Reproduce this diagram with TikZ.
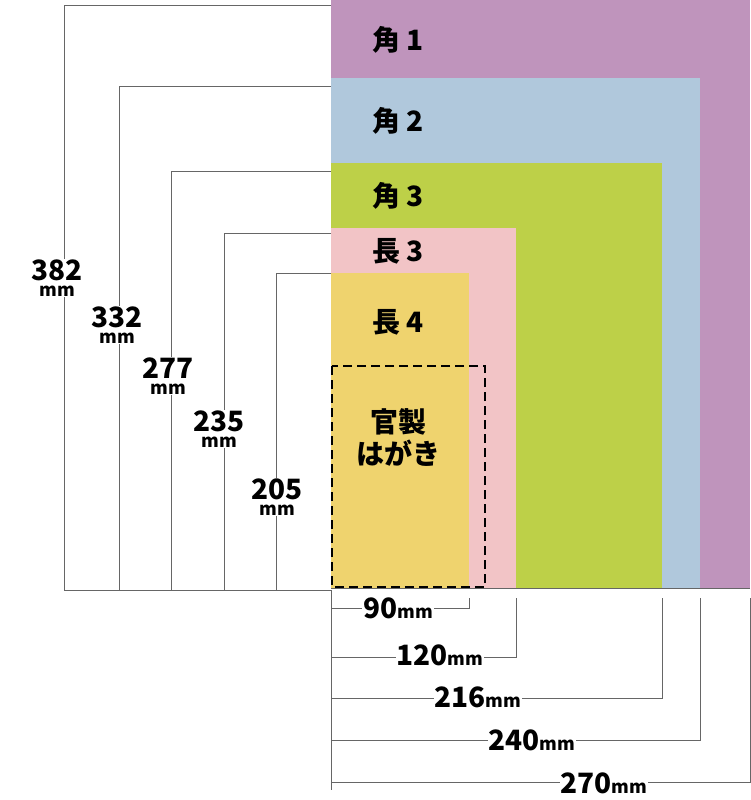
\documentclass[tikz,border=0pt]{standalone}
\usepackage{fontspec}
\setmainfont{Noto Sans CJK JP}
\usetikzlibrary{positioning}
\definecolor{kaku1}{HTML}{BF94BC}
\definecolor{kaku2}{HTML}{B0C8DC}
\definecolor{kaku3}{HTML}{BDD048}
\definecolor{naga3}{HTML}{F2C4C6}
\definecolor{naga4}{HTML}{EFD36E}
\tikzset{
  dimline/.style={draw=gray!80!black, line width=0.8pt},
  envlabel/.style={font=\fontsize{28}{32}\selectfont\bfseries},
  numlabel/.style={font=\fontsize{28}{28}\selectfont\bfseries, fill=white, inner sep=1pt, align=center},
}
\newcommand{\mmsmall}{{\fontsize{18}{18}\selectfont mm}}
\begin{document}
\begin{tikzpicture}[x=1pt,y=-1pt]
\useasboundingbox[fill=white] (0,0) rectangle (750,800);

% envelopes
\fill[kaku1] (331,0) rectangle (750,588);
\fill[kaku2] (331,78) rectangle (700,588);
\fill[kaku3] (331,163) rectangle (662,588);
\fill[naga3] (331,228) rectangle (516,588);
\fill[naga4] (331,273) rectangle (469,588);
\draw[line width=2.5pt, dash pattern=on 9pt off 5pt] (332,366) rectangle (485,587);

\node[envlabel] (k1) at (398,40) {角 1};
\node[envlabel] (k2) at (398,121) {角 2};
\node[envlabel] (k3) at (398,196) {角 3};
\node[envlabel] (n3) at (398,251) {長 3};
\node[envlabel] (n4) at (398,322) {長 4};
\node[envlabel, align=center] (hg) at (398,438) {官製\\はがき};

% height dimensions
\draw[dimline] (331,5) -- (64,5) -- (64,590) -- (331,590);
\draw[dimline] (331,86) -- (119,86) -- (119,590);
\draw[dimline] (331,171) -- (171,171) -- (171,590);
\draw[dimline] (331,233) -- (224,233) -- (224,590);
\draw[dimline] (331,273) -- (276,273) -- (276,590);
\draw[dimline] (331,588) -- (750,588);

\node[numlabel] (h382) at (57,278) {382\\[-12pt]\mmsmall};
\node[numlabel] (h332) at (117,325) {332\\[-12pt]\mmsmall};
\node[numlabel] (h277) at (168,376) {277\\[-12pt]\mmsmall};
\node[numlabel] (h235) at (219,429) {235\\[-12pt]\mmsmall};
\node[numlabel] (h205) at (277,497) {205\\[-12pt]\mmsmall};

% width dimensions
\draw[dimline] (331,590) -- (331,790);
\draw[dimline] (331,608) -- (469,608) -- (469,598);
\draw[dimline] (331,657) -- (516,657) -- (516,598);
\draw[dimline] (331,698) -- (662,698) -- (662,598);
\draw[dimline] (331,740) -- (700,740) -- (700,598);
\draw[dimline] (331,782) -- (750,782) -- (750,598);

\node[numlabel] (w90) at (398,608) {90\mmsmall};
\node[numlabel] (w120) at (440,655) {120\mmsmall};
\node[numlabel] (w216) at (478,697) {216\mmsmall};
\node[numlabel] (w240) at (532,740) {240\mmsmall};
\node[numlabel] (w270) at (604,783) {270\mmsmall};

\end{tikzpicture}
\end{document}
